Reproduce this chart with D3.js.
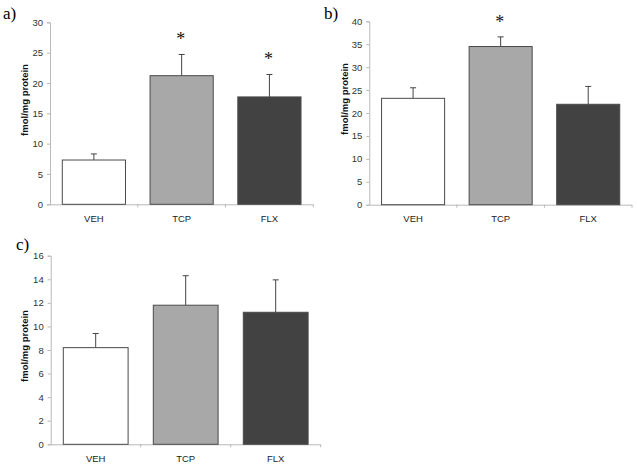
<!DOCTYPE html>
<html><head><meta charset="utf-8">
<script src="https://cdn.jsdelivr.net/npm/d3@7"></script>
<style>
html,body{margin:0;padding:0;background:#fff;}
svg{display:block;}
</style></head>
<body>
<svg id="chart" width="637" height="466"></svg>
<script>
// ---- data ----
const categories = ["VEH", "TCP", "FLX"];
const valuesA = [7.3, 21.2, 17.7];
const errorsA = [1.0, 3.5, 3.7];
const starsA = [false, true, true];
const valuesB = [23.2, 34.5, 21.9];
const errorsB = [2.3, 2.1, 3.9];
const starsB = [false, true, false];
const valuesC = [8.2, 11.8, 11.2];
const errorsC = [1.2, 2.5, 2.75];
const starsC = [false, false, false];
const ticksA = [0, 5, 10, 15, 20, 25, 30];
const ticksB = [0, 5, 10, 15, 20, 25, 30, 35, 40];
const ticksC = [0, 2, 4, 6, 8, 10, 12, 14, 16];
const panelLabels = ["a)", "b)", "c)"];
const yTitle = "fmol/mg protein";
const fills = ["#ffffff", "#a8a8a8", "#424242"];

// ---- layout ----
const panels = [
  {label: panelLabels[0], values: valuesA, errors: errorsA, stars: starsA, ticks: ticksA,
   x0: 50, x1: 313.3, y0: 204.3, y1: 22.3, lab: [3, 19], ttl: [25, 100]},
  {label: panelLabels[1], values: valuesB, errors: errorsB, stars: starsB, ticks: ticksB,
   x0: 369.3, x1: 632, y0: 204.7, y1: 21.3, lab: [324, 19], ttl: [345, 99]},
  {label: panelLabels[2], values: valuesC, errors: errorsC, stars: starsC, ticks: ticksC,
   x0: 50.7, x1: 320.7, y0: 444.3, y1: 255.7, lab: [16, 250], ttl: [25, 346]}
];

const svg = d3.select("#chart");

panels.forEach(p => {
  const g = svg.append("g");
  const x = d3.scaleBand().domain(categories).range([p.x0, p.x1])
    .paddingInner(0.28).paddingOuter(0.14);
  const y = d3.scaleLinear().domain([0, d3.max(p.ticks)]).range([p.y0, p.y1]);

  // y axis
  const ya = g.append("g").attr("transform", `translate(${p.x0},0)`)
    .call(d3.axisLeft(y).tickValues(p.ticks).tickSize(3).tickPadding(4));
  ya.select(".domain").attr("stroke", "#b8b8b8");
  ya.selectAll(".tick line").attr("stroke", "#b8b8b8");
  ya.selectAll(".tick text").attr("fill", "#333").style("font-family", "Liberation Sans, Arial, sans-serif").style("font-size", "9.5px");

  // x axis line and boundary ticks
  const step = x.step();
  g.append("line").attr("x1", p.x0).attr("x2", p.x1).attr("y1", p.y0 + 0.5).attr("y2", p.y0 + 0.5)
    .attr("stroke", "#b8b8b8");
  g.selectAll(".xb").data(categories).enter().append("line")
    .attr("x1", d => x(d) - step * 0.14 + step).attr("x2", d => x(d) - step * 0.14 + step)
    .attr("y1", p.y0).attr("y2", p.y0 + 3).attr("stroke", "#b8b8b8");
  g.selectAll(".xl").data(categories).enter().append("text")
    .attr("x", d => x(d) + x.bandwidth() / 2).attr("y", p.y0 + 17.5)
    .attr("text-anchor", "middle").attr("fill", "#222")
    .style("font-family", "Liberation Sans, Arial, sans-serif").style("font-size", "9.5px")
    .text(d => d);

  // error bars (upper only)
  categories.forEach((c, i) => {
    const cx = x(c) + x.bandwidth() / 2;
    g.append("line").attr("x1", cx).attr("x2", cx)
      .attr("y1", y(p.values[i])).attr("y2", y(p.values[i] + p.errors[i]))
      .attr("stroke", "#444").attr("stroke-width", 1);
    g.append("line").attr("x1", cx - 3).attr("x2", cx + 3)
      .attr("y1", y(p.values[i] + p.errors[i])).attr("y2", y(p.values[i] + p.errors[i]))
      .attr("stroke", "#444").attr("stroke-width", 1);
    if (p.stars[i]) {
      g.append("text").attr("x", cx - 1).attr("y", y(p.values[i] + p.errors[i]) - 19 + 10)
        .attr("text-anchor", "middle").attr("fill", "#111")
        .style("font-family", "Liberation Serif, Times New Roman, serif").style("font-size", "18px")
        .text("*");
    }
  });

  // bars
  g.selectAll(".bar").data(categories).enter().append("rect")
    .attr("x", d => x(d)).attr("width", x.bandwidth())
    .attr("y", (d, i) => y(p.values[i])).attr("height", (d, i) => p.y0 - y(p.values[i]))
    .attr("fill", (d, i) => fills[i]).attr("stroke", "#4a4a4a").attr("stroke-width", 1);

  // y title
  g.append("text").attr("transform", `translate(${p.ttl[0]},${p.ttl[1]}) rotate(-90)`)
    .attr("text-anchor", "middle").attr("dy", "0.35em").attr("fill", "#111")
    .style("font-family", "Liberation Sans, Arial, sans-serif").style("font-size", "9.5px")
    .style("font-weight", "bold").text(yTitle);

  // panel label
  svg.append("text").attr("x", p.lab[0]).attr("y", p.lab[1])
    .attr("fill", "#000").style("font-family", "Liberation Serif, Times New Roman, serif")
    .style("font-size", "17px").text(p.label);
});
</script>
</body></html>
